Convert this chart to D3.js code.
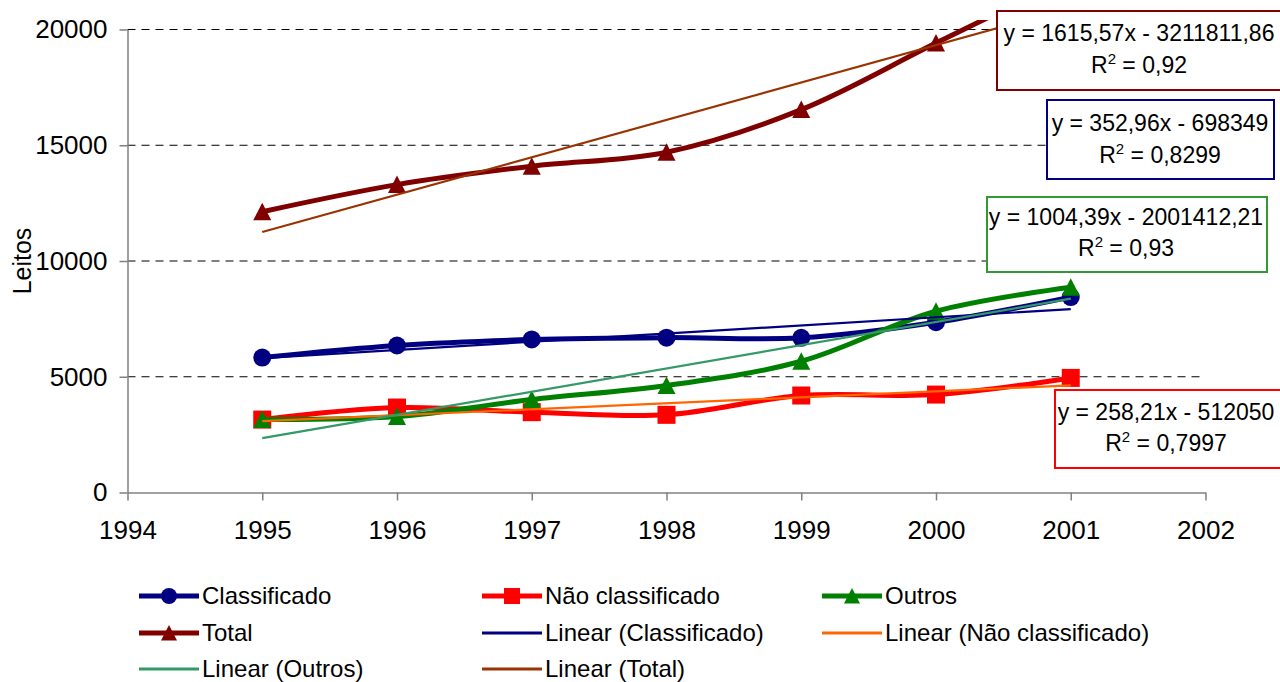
<!DOCTYPE html>
<html>
<head>
<meta charset="utf-8">
<script src="https://cdn.jsdelivr.net/npm/d3@7"></script>
<style>
  html, body { margin: 0; padding: 0; background: #fff; }
  svg { display: block; font-family: "Liberation Sans", Arial, sans-serif; }
</style>
</head>
<body>
<svg id="chart" width="1280" height="682"></svg>
<script>
// ---------- data ----------
const years = [1995, 1996, 1997, 1998, 1999, 2000, 2001];
const classificado = [5830, 6350, 6610, 6690, 6680, 7355, 8440];
const naoClassificado = [3150, 3670, 3470, 3355, 4190, 4230, 4950];
const outros = [3150, 3280, 4015, 4620, 5670, 7830, 8870];
const total = [12130, 13300, 14095, 14700, 16540, 19415, 22260];

const xTicks = [1994, 1995, 1996, 1997, 1998, 1999, 2000, 2001, 2002];
const yTicks = [0, 5000, 10000, 15000, 20000];

// trend equations as printed on the chart
const trendNames = ["Classificado", "Não classificado", "Outros", "Total"];
const trendSlopes = [352.96, 258.21, 1004.39, 1615.57];
const trendIntercepts = [-698349, -512050, -2001412.21, -3211811.86];
const trendR2 = ["0,8299", "0,7997", "0,93", "0,92"];
const trendEqText = ["y = 352,96x - 698349", "y = 258,21x - 512050",
                     "y = 1004,39x - 2001412,21", "y = 1615,57x - 3211811,86"];

// ---------- layout ----------
const svg = d3.select("#chart");
const x = d3.scaleLinear().domain([1994, 2002]).range([127.5, 1205.5]);
const y = d3.scaleLinear().domain([0, 20000]).range([492.5, 29.5]);
const FONT = 26;

const seriesDefs = [
  { name: "Classificado", values: classificado, color: "#000080", marker: "circle" },
  { name: "Não classificado", values: naoClassificado, color: "#FF0000", marker: "square" },
  { name: "Outros", values: outros, color: "#008000", marker: "triangle" },
  { name: "Total", values: total, color: "#800000", marker: "triangle" }
];
const trendColors = ["#000080", "#FF6600", "#339966", "#993300"];

svg.append("defs").append("clipPath").attr("id", "plotclip")
  .append("rect").attr("x", 0).attr("y", 20).attr("width", 1280).attr("height", 662);

// gridlines
svg.append("g").selectAll("line").data(yTicks.filter(d => d > 0)).join("line")
  .attr("x1", x(1994)).attr("x2", x(2002))
  .attr("y1", d => y(d)).attr("y2", d => y(d))
  .attr("stroke", "#000").attr("stroke-width", 1)
  .attr("stroke-dasharray", "8,6");

// axes
const xAxis = d3.axisBottom(x).tickValues(xTicks).tickFormat(d3.format("d"))
  .tickSizeInner(8).tickSizeOuter(0).tickPadding(20);
const gx = svg.append("g").attr("transform", `translate(0,${y(0)})`).call(xAxis);
gx.select(".domain").attr("stroke", "#808080").attr("stroke-width", 1.5);
gx.selectAll(".tick line").attr("stroke", "#808080").attr("stroke-width", 1.5);
gx.selectAll("text").attr("font-size", FONT).attr("fill", "#000")
  .attr("font-family", "Liberation Sans, Arial, sans-serif");

const yAxis = d3.axisLeft(y).tickValues(yTicks).tickFormat(d3.format("d"))
  .tickSizeInner(8).tickSizeOuter(0).tickPadding(12);
const gy = svg.append("g").attr("transform", `translate(${x(1994)},0)`).call(yAxis);
gy.select(".domain").attr("stroke", "#808080").attr("stroke-width", 1.5);
gy.selectAll(".tick line").attr("stroke", "#808080").attr("stroke-width", 1.5);
gy.selectAll("text").attr("font-size", FONT).attr("fill", "#000")
  .attr("font-family", "Liberation Sans, Arial, sans-serif");

svg.append("text")
  .attr("transform", "translate(31,261) rotate(-90)")
  .attr("text-anchor", "middle")
  .attr("font-size", 25)
  .text("Leitos");

// marker helper
function drawMarker(g, type, cx, cy, color, s) {
  s = s || 9;
  if (type === "circle") {
    g.append("circle").attr("cx", cx).attr("cy", cy).attr("r", s).attr("fill", color);
  } else if (type === "square") {
    g.append("rect").attr("x", cx - s).attr("y", cy - s).attr("width", 2 * s).attr("height", 2 * s).attr("fill", color);
  } else {
    g.append("path")
      .attr("d", `M${cx},${cy - s} L${cx + s},${cy + s - 0.5} L${cx - s},${cy + s - 0.5} Z`)
      .attr("fill", color);
  }
}

// series
const plot = svg.append("g").attr("clip-path", "url(#plotclip)");
const line = d3.line().x((d, i) => x(years[i])).y(d => y(d)).curve(d3.curveCatmullRom.alpha(0.5));
seriesDefs.forEach(s => {
  const g = plot.append("g");
  g.append("path").datum(s.values).attr("d", line)
    .attr("fill", "none").attr("stroke", s.color).attr("stroke-width", 5)
    .attr("stroke-linejoin", "round");
  s.values.forEach((v, i) => drawMarker(g, s.marker, x(years[i]), y(v), s.color, 9));
});

// trend lines
const tline = d3.line().x(d => x(d[0])).y(d => y(d[1]));
trendSlopes.forEach((m, k) => {
  const x0 = years[0], x1 = years[years.length - 1];
  const pts = [[x0, m * x0 + trendIntercepts[k]], [x1, m * x1 + trendIntercepts[k]]];
  plot.append("path").datum(pts).attr("d", tline)
    .attr("fill", "none").attr("stroke", trendColors[k]).attr("stroke-width", 2.2);
});

// equation boxes
const boxes = [
  { k: 3, x: 997, y: 11, w: 300, h: 79, color: "#800000", cx: 1139, l1: 33, l2: 65 },
  { k: 0, x: 1047, y: 100, w: 227, h: 79, color: "#000080", cx: 1160, l1: 123, l2: 155 },
  { k: 2, x: 987, y: 197, w: 280, h: 75, color: "#339933", cx: 1126, l1: 217, l2: 248 },
  { k: 1, x: 1055, y: 390, w: 240, h: 78, color: "#FF0000", cx: 1166, l1: 412, l2: 443 }
];
const EQF = 23;
boxes.forEach(b => {
  const g = svg.append("g");
  g.append("rect").attr("x", b.x).attr("y", b.y).attr("width", b.w).attr("height", b.h)
    .attr("fill", "#fff").attr("stroke", b.color).attr("stroke-width", 2);
  g.append("text").attr("x", b.cx).attr("y", b.l1).attr("dy", "0.35em")
    .attr("text-anchor", "middle").attr("font-size", EQF).text(trendEqText[b.k]);
  const t2 = g.append("text").attr("x", b.cx).attr("y", b.l2).attr("dy", "0.35em")
    .attr("text-anchor", "middle").attr("font-size", EQF);
  t2.append("tspan").text("R");
  t2.append("tspan").attr("font-size", 15).attr("dy", "-0.6em").text("2");
  t2.append("tspan").attr("dy", "0.4em").text(" = " + trendR2[b.k]);
});

// legend
const legendItems = [
  { label: "Classificado", color: "#000080", marker: "circle" },
  { label: "Não classificado", color: "#FF0000", marker: "square" },
  { label: "Outros", color: "#008000", marker: "triangle" },
  { label: "Total", color: "#800000", marker: "triangle" },
  { label: "Linear (Classificado)", color: trendColors[0], marker: null },
  { label: "Linear (Não classificado)", color: trendColors[1], marker: null },
  { label: "Linear (Outros)", color: trendColors[2], marker: null },
  { label: "Linear (Total)", color: trendColors[3], marker: null }
];
const colX = [139, 482, 822];
const rowY = [596, 633, 669];
const lg = svg.append("g");
legendItems.forEach((it, i) => {
  const cx0 = colX[i % 3], cy = rowY[Math.floor(i / 3)];
  lg.append("line").attr("x1", cx0).attr("x2", cx0 + 60).attr("y1", cy).attr("y2", cy)
    .attr("stroke", it.color).attr("stroke-width", it.marker ? 5 : 3);
  if (it.marker) drawMarker(lg, it.marker, cx0 + 30, cy, it.color, 8);
  lg.append("text").attr("x", cx0 + 63).attr("y", cy).attr("dy", "0.35em")
    .attr("font-size", 24).text(it.label);
});
</script>
</body>
</html>
